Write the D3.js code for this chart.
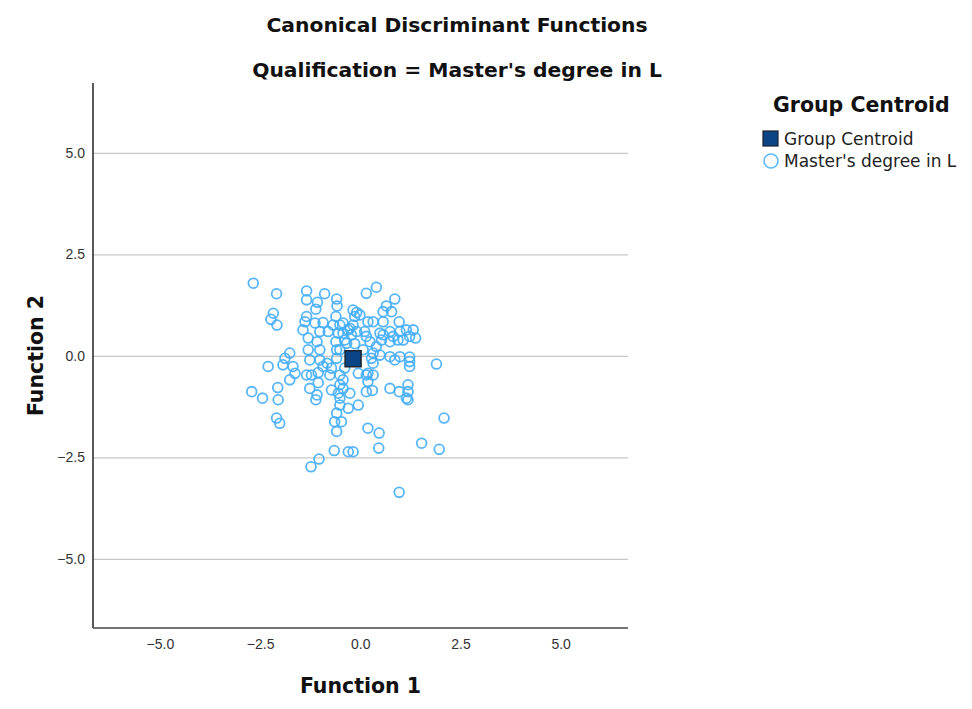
<!DOCTYPE html>
<html>
<head>
<meta charset="utf-8">
<script src="https://cdn.jsdelivr.net/npm/d3@7"></script>
<style>
  body { margin: 0; background: #fff; }
  svg { font-family: "DejaVu Sans", sans-serif; }
  .grid line { stroke: #c8c8c8; stroke-width: 1.2; }
  .grid .domain { display: none; }
  .tick-label text { fill: #333; font-size: 14px; }
  .axis-label { font-weight: bold; font-size: 20.5px; fill: #111; }
  .title { font-weight: bold; font-size: 20.3px; fill: #111; }
</style>
</head>
<body>
<svg width="972" height="709"></svg>
<script>
// scores: Function 1 / Function 2
var f1 = [-2.67,-2.09,-1.34,-1.34,-0.89,-1.07,-0.59,-0.58,-2.17,-2.23,-2.08,-1.11,-1.34,-1.38,-1.13,-0.93,-1.43,-1.30,-1.01,-1.08,
  -1.01,-1.30,-0.61,-0.68,-0.51,-0.80,-0.55,-0.61,-0.43,-0.18,-0.09,-0.14,-0.26,-0.22,-0.34,-0.14,0.15,0.19,-1.76,-1.88,
  -1.93,-2.30,-1.68,-1.26,-1.01,-0.83,-0.59,-0.51,-0.59,
  0.40,0.86,0.65,0.57,0.78,-0.01,0.32,0.57,0.97,-0.43,-0.18,-0.30,0.11,0.15,0.24,0.49,0.57,0.74,0.82,0.99,
  1.15,1.32,1.38,1.23,1.07,0.94,0.74,0.53,0.40,0.32,0.49,0.74,0.99,1.23,1.23,0.86,1.90,-0.09,-0.39,0.07,0.28,
  -1.63,-1.76,-2.71,-2.44,-2.06,-2.05,-2.09,-2.01,-1.34,-1.22,-1.05,-1.05,-1.26,-1.08,-1.11,-0.72,-0.51,-0.43,-0.55,-0.51,
  -0.26,-0.05,-0.30,-0.51,-0.59,-0.64,-0.47,-0.59,0.19,-0.65,-0.30,-0.18,-1.03,-1.23,-0.76,-0.51,-0.43,-0.93,-0.72,-0.39,
  -0.05,0.19,0.15,
  1.23,0.32,0.15,0.32,0.19,0.74,0.97,1.19,1.19,1.15,1.19,0.30,2.09,0.47,0.46,1.53,1.97,0.97];

var f2 = [1.79,1.53,1.60,1.38,1.53,1.32,1.40,1.23,1.05,0.90,0.76,1.15,0.97,0.84,0.81,0.82,0.64,0.44,0.60,0.35,
  0.15,0.15,0.97,0.76,0.76,0.60,0.56,0.35,0.56,1.13,1.07,0.97,0.68,0.52,0.31,0.30,1.54,0.84,0.07,-0.06,
  -0.22,-0.26,-0.26,-0.10,-0.10,-0.18,-0.06,0.15,0.15,
  1.69,1.40,1.23,1.09,1.09,1.01,0.84,0.84,0.84,0.81,0.76,0.64,0.60,0.48,0.35,0.56,0.52,0.60,0.48,0.60,
  0.64,0.64,0.44,0.48,0.39,0.39,0.35,0.39,0.23,0.07,0.02,-0.02,-0.02,-0.03,-0.14,-0.10,-0.20,0.60,0.39,0.15,-0.06,
  -0.43,-0.59,-0.88,-1.04,-0.78,-1.08,-1.53,-1.66,-0.47,-0.47,-0.41,-0.66,-0.80,-0.96,-1.08,-0.84,-0.71,-0.80,-0.92,-1.04,
  -0.92,-1.21,-1.29,-1.21,-1.41,-1.62,-1.62,-1.86,-1.78,-2.33,-2.36,-2.36,-2.54,-2.73,-0.47,-0.47,-0.59,-0.26,-0.30,-0.30,
  -0.43,-0.43,-0.88,
  -0.26,-0.18,-0.47,-0.47,-0.63,-0.80,-0.88,-0.71,-0.88,-1.04,-1.08,-0.85,-1.53,-1.90,-2.27,-2.15,-2.30,-3.36];

var centroid = [-0.18, -0.07];
var ticks = [-5, -2.5, 0, 2.5, 5];
var titleLines = ['Canonical Discriminant Functions', "Qualification = Master's degree in L"];
var legendItems = ['Group Centroid', "Master's degree in L"];

var svg = d3.select('svg');

// plot box in pixels
var box = {l: 93, r: 628, t: 83, b: 628};

var x = d3.scaleLinear().domain([-6.67, 6.68]).range([box.l, box.r]);
var y = d3.scaleLinear().domain([-6.7, 6.72]).range([box.b, box.t]);

var points = f1.map(function(d, i) { return {f1: d, f2: f2[i]}; });

// horizontal grid lines
svg.append('g')
  .attr('class', 'grid')
  .attr('transform', 'translate(' + box.l + ',0)')
  .call(d3.axisLeft(y).tickValues(ticks).tickSize(-(box.r - box.l)).tickFormat(''));

// tick labels
svg.append('g')
  .attr('class', 'tick-label')
  .attr('transform', 'translate(' + box.l + ',0)')
  .call(d3.axisLeft(y).tickValues(ticks).tickSize(0).tickPadding(8).tickFormat(d3.format('.1f')))
  .call(function(g) { g.select('.domain').remove(); });

svg.append('g')
  .attr('class', 'tick-label')
  .attr('transform', 'translate(0,' + box.b + ')')
  .call(d3.axisBottom(x).tickValues(ticks).tickSize(0).tickPadding(11).tickFormat(d3.format('.1f')))
  .call(function(g) { g.select('.domain').remove(); });

// axis lines, left and bottom only
svg.append('line')
  .attr('x1', box.l).attr('x2', box.l).attr('y1', box.t).attr('y2', box.b)
  .style('stroke', '#222').style('stroke-width', 1.5);
svg.append('line')
  .attr('x1', box.l).attr('x2', box.r).attr('y1', box.b).attr('y2', box.b)
  .style('stroke', '#444').style('stroke-width', 1.5);

// case markers
svg.append('g')
  .selectAll('circle')
  .data(points)
  .enter()
  .append('circle')
  .attr('cx', function(d) { return x(d.f1); })
  .attr('cy', function(d) { return y(d.f2); })
  .attr('r', 4.9)
  .style('fill', 'none')
  .style('stroke', '#45adf8')
  .style('stroke-width', 1.8)
  .style('opacity', 0.9);

// group centroid
svg.append('rect')
  .datum(centroid)
  .attr('x', function(d) { return x(d[0]) - 8; })
  .attr('y', function(d) { return y(d[1]) - 8; })
  .attr('width', 16).attr('height', 16)
  .style('fill', '#0b4585')
  .style('stroke', '#1c2430')
  .style('stroke-width', 1.5);

// titles
svg.selectAll('.title')
  .data(titleLines)
  .enter()
  .append('text')
  .attr('class', 'title')
  .attr('x', 457)
  .attr('y', function(d, i) { return 32 + i * 45; })
  .attr('text-anchor', 'middle')
  .text(function(d) { return d; });

svg.append('text')
  .attr('class', 'axis-label')
  .attr('x', (box.l + box.r) / 2)
  .attr('y', 693)
  .attr('text-anchor', 'middle')
  .text('Function 1');

svg.append('text')
  .attr('class', 'axis-label')
  .attr('transform', 'translate(43,' + ((box.t + box.b) / 2) + ') rotate(-90)')
  .attr('text-anchor', 'middle')
  .text('Function 2');

// legend
var legend = svg.append('g').attr('transform', 'translate(763,0)');
legend.append('text')
  .attr('class', 'axis-label')
  .attr('x', 10)
  .attr('y', 112)
  .text('Group Centroid');

legend.append('rect')
  .attr('x', 0).attr('y', 131).attr('width', 15).attr('height', 15)
  .style('fill', '#0b4585').style('stroke', '#1c2430').style('stroke-width', 1.2);
legend.append('circle')
  .attr('cx', 8).attr('cy', 161).attr('r', 7)
  .style('fill', 'none').style('stroke', '#5bbaff').style('stroke-width', 1.6);

legend.selectAll('.legend-text')
  .data(legendItems)
  .enter()
  .append('text')
  .attr('class', 'legend-text')
  .attr('x', 21)
  .attr('y', function(d, i) { return 145 + i * 22; })
  .style('font-size', '17px')
  .style('fill', '#222')
  .text(function(d) { return d; });
</script>
</body>
</html>
